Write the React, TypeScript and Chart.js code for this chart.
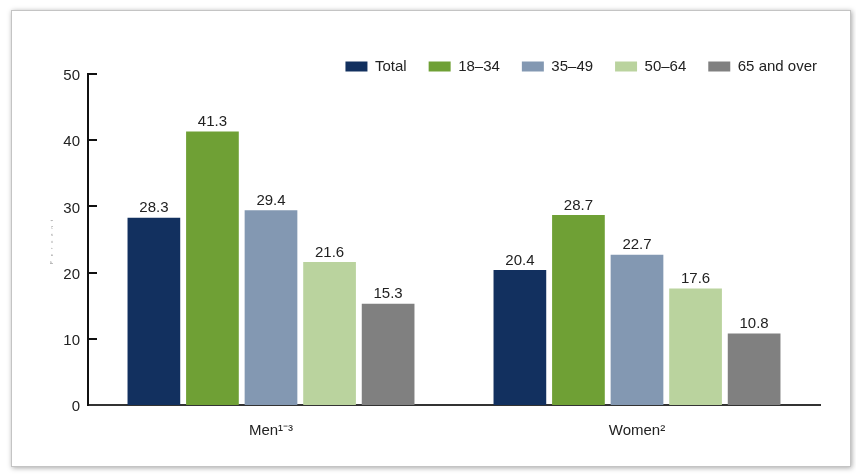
import React, { useEffect, useRef } from "react";
import { Chart, registerables } from "chart.js";

Chart.register(...registerables);

const categories = ["Men¹⁻³", "Women²"];
const seriesNames = ["Total", "18–34", "35–49", "50–64", "65 and over"];
const totalValues = [28.3, 20.4];
const age18to34 = [41.3, 28.7];
const age35to49 = [29.4, 22.7];
const age50to64 = [21.6, 17.6];
const age65over = [15.3, 10.8];
const seriesColors = ["#12305f", "#6fa035", "#8398b2", "#bad39e", "#808080"];
const yMin = 0;
const yMax = 50;
const yStep = 10;
const yTitle = "Percent";

const FONT = "'Liberation Sans', Arial, Helvetica, sans-serif";
const TEXT = "#222222";

const dataLabels = {
  id: "dataLabels",
  afterDatasetsDraw(chart: any) {
    const ctx = chart.ctx;
    ctx.save();
    ctx.font = `15px ${FONT}`;
    ctx.fillStyle = TEXT;
    ctx.textAlign = "center";
    ctx.textBaseline = "bottom";
    chart.data.datasets.forEach((ds: any, i: number) => {
      const meta = chart.getDatasetMeta(i);
      meta.data.forEach((el: any, j: number) => {
        ctx.fillText(Number(ds.data[j]).toFixed(1), el.x, el.y - 2);
      });
    });
    ctx.restore();
  },
};

const innerTicks = {
  id: "innerTicks",
  afterDraw(chart: any) {
    const ctx = chart.ctx;
    const y = chart.scales.y;
    const left = chart.chartArea.left;
    ctx.save();
    ctx.strokeStyle = "#111111";
    ctx.lineWidth = 2;
    y.ticks.forEach((t: any) => {
      if (t.value === 0) return;
      const py = Math.round(y.getPixelForValue(t.value));
      ctx.beginPath();
      ctx.moveTo(left, py);
      ctx.lineTo(left + 9, py);
      ctx.stroke();
    });
    // tiny axis title
    ctx.translate(left - 36, (chart.chartArea.top + chart.chartArea.bottom) / 2);
    ctx.rotate(-Math.PI / 2);
    ctx.font = `4px ${FONT}`;
    (ctx as any).letterSpacing = "5px";
    ctx.fillStyle = "#888888";
    ctx.textAlign = "center";
    ctx.textBaseline = "middle";
    ctx.fillText(yTitle, 0, 0);
    ctx.restore();
  },
};

const legendShift = {
  id: "legendShift",
  afterLayout(chart: any) {
    const l = chart.legend;
    if (!l) return;
    l.left += 19;
    l.right += 19;
    l.top += 2;
    l.bottom += 2;
  },
};

export default function App() {
  const ref = useRef<HTMLCanvasElement | null>(null);
  useEffect(() => {
    if (!ref.current) return;
    const seriesValues = [totalValues, age18to34, age35to49, age50to64, age65over];
    const chart = new Chart(ref.current, {
      type: "bar",
      data: {
        labels: categories,
        datasets: seriesNames.map((name, i) => ({
          label: name,
          data: seriesValues[i],
          backgroundColor: seriesColors[i],
          borderWidth: 0,
          categoryPercentage: 0.8,
          barPercentage: 0.9,
        })),
      },
      options: {
        animation: false,
        responsive: true,
        maintainAspectRatio: false,
        layout: { padding: { top: 24, right: 30, left: 0, bottom: 0 } },
        plugins: {
          tooltip: { enabled: false },
          legend: {
            position: "top",
            align: "end",
            maxHeight: 39,
            labels: {
              boxWidth: 22,
              boxHeight: 10,
              padding: 22,
              color: TEXT,
              font: { size: 15, family: FONT },
            },
          },
        },
        scales: {
          x: {
            grid: { display: false, drawTicks: false },
            border: { display: true, color: "#333333", width: 2 },
            ticks: { color: TEXT, font: { size: 15, family: FONT }, padding: 17 },
            afterFit(scale: any) {
              scale.height = 61;
            },
          },
          y: {
            min: yMin,
            max: yMax,
            grid: { display: false, drawTicks: false },
            border: { display: true, color: "#111111", width: 2 },
            ticks: {
              stepSize: yStep,
              color: TEXT,
              font: { size: 15, family: FONT },
              padding: 8,
              labelOffset: 2,
            },
            afterFit(scale: any) {
              scale.width = 76;
            },
          },
        },
      },
      plugins: [dataLabels, innerTicks, legendShift],
    } as any);
    return () => chart.destroy();
  }, []);

  return (
    <div
      style={{
        position: "absolute",
        left: 11,
        top: 10,
        width: 838,
        height: 455,
        border: "1px solid #c4c4c4",
        boxShadow: "1px 1px 5px rgba(0,0,0,0.35)",
        background: "#ffffff",
      }}
    >
      <canvas ref={ref} />
    </div>
  );
}
